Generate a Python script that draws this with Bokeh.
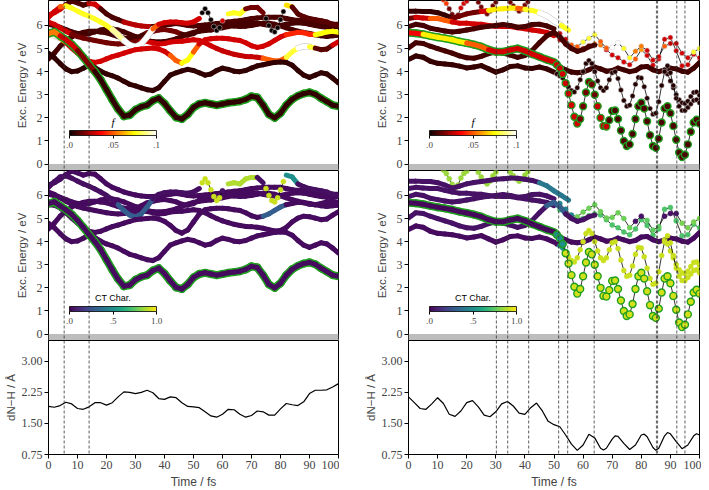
import math
from bokeh.plotting import figure
from bokeh.layouts import gridplot
from bokeh.models import (ColumnDataSource, LinearColorMapper, ColorBar, FixedTicker,
                          Span, BoxAnnotation, Range1d, Label)
from bokeh.transform import transform
from bokeh.palettes import Viridis256
from bokeh.embed import file_html
from bokeh.resources import INLINE

NAN = float("nan")

# ======================= DATA =======================
# ---- left column (trajectory 1), time grid 2 fs ----
T_L = [0, 2, 4, 6, 8, 10, 12, 14, 16, 18, 20, 22, 24, 26, 28, 30, 32, 34, 36, 38,
       40, 42, 44, 46, 48, 50, 52, 54, 56, 58, 60, 62, 64, 66, 68, 70, 72, 74, 76, 78,
       80, 82, 84, 86, 88, 90, 92, 94, 96, 98, 100]

L_S1 = [5.65, 5.72, 5.55, 5.38, 5.18, 4.92, 4.62, 4.3, 4.0, 3.65,
        3.22, 2.78, 2.38, 2.07, 2.12, 2.35, 2.48, 2.55, 2.75, 2.85,
        2.62, 2.3, 2.02, 1.95, 2.15, 2.45, 2.6, 2.65, 2.6, 2.55,
        2.6, 2.65, 2.68, 2.72, 2.8, 2.93, 2.88, 2.55, 2.15, 2.0,
        2.2, 2.55, 2.8, 2.95, 3.05, 3.1, 3.02, 2.85, 2.7, 2.55, 2.5]
L_S2 = [4.8, 4.6, 4.35, 4.12, 4.0, 4.03, 4.15, 4.28, 4.18, 4.02,
        3.9, 3.82, 3.72, 3.58, 3.45, 3.38, 3.3, 3.22, 3.18, 3.3,
        3.58, 3.85, 3.95, 4.03, 4.1, 4.05, 3.95, 3.85, 3.9, 4.05,
        4.15, 4.1, 4.02, 4.0, 4.05, 4.15, 4.25, 4.3, 4.35, 4.4,
        4.42, 4.4, 4.28, 4.05, 3.85, 3.75, 3.85, 3.95, 3.9, 3.72, 3.5]
L_U1 = [4.55, 4.8, 5.1, 5.32, 5.5, 5.62, 5.7, 5.75, 5.75, 5.72,
        5.68, 5.6, 5.52, 5.45, 5.42, 5.45, 5.55, 5.68, 5.75, 5.8,
        5.82, 5.78, 5.72, 5.62, 5.58, 5.65, 5.8, 5.92, 6.0, 6.05,
        6.05, 6.02, 5.98, 5.95, 5.97, 6.0, 6.05, 6.1, 6.1, 6.05,
        5.98, 5.9, 5.82, 5.75, 5.7, 5.65, 5.6, 5.55, 5.52, 5.55, 5.58]
L_U2 = [5.6, 5.58, 5.45, 5.25, 5.02, 4.8, 4.6, 4.45, 4.4, 4.45,
        4.55, 4.65, 4.72, 4.8, 4.88, 4.95, 4.98, 5.0, 5.02, 4.98,
        4.88, 4.7, 4.48, 4.37, 4.5, 4.85, 5.2, 5.38, 5.42, 5.45,
        5.45, 5.42, 5.38, 5.35, 5.25, 5.12, 5.05, 5.1, 5.2, 5.35,
        5.5, 5.6, 5.65, 5.7, 5.68, 5.62, 5.6, 5.65, 5.72, 5.75, 5.7]
L_U3 = [6.15, 6.05, 5.9, 5.75, 5.62, 5.52, 5.45, 5.4, 5.35, 5.3,
        5.25, 5.22, 5.2, 5.22, 5.25, 5.3, 5.32, 5.3, 5.25, 5.2,
        5.22, 5.28, 5.3, 5.32, 5.35, 5.38, 5.35, 5.25, 5.12, 5.0,
        4.9, 4.82, 4.75, 4.7, 4.66, 4.65, 4.62, 4.58, 4.52, 4.46,
        4.48, 4.62, 4.85, 5.02, 5.1, 5.08, 5.02, 4.95, 4.98, 5.15, 5.3]
L_U4 = [6.05, 6.0, 5.92, 5.82, 5.72, 5.65, 5.62, 5.65, 5.72, 5.8,
        5.85, 5.85, 5.8, 5.72, 5.62, 5.52, 5.42, 5.35, 5.3, 5.28,
        5.3, 5.35, 5.42, 5.52, 5.62, 5.7, 5.75, 5.78, 5.8, 5.85,
        5.9, 5.95, 6.0, 6.05, 6.1, 6.12, 6.1, 6.05, 6.0, 5.98,
        6.0, 6.05, 6.1, 6.12, 6.1, 6.05, 6.0, 5.95, 5.92, 5.92, 5.95]
L_U7 = [6.45, 6.55, 6.7, 6.9, 7.05, 6.98, 6.88, 6.95, 6.92, 6.72,
        6.5, 6.35, 6.25, 6.15, 6.08, 6.02, 5.98, 5.95, 5.95, 5.98,
        6.02, 6.05, 6.08, 6.05, 6.0, 5.98, 6.0, 6.02, 6.05, 6.08,
        6.12, 6.15, 6.18, 6.2, 6.25, 6.3, 6.32, 6.35, 6.35, 6.35,
        6.35, 6.3, 6.25, 6.22, 6.2, 6.18, 6.15, 6.12, 6.08, 6.05, 6.05]
L_U5_T = [0, 2, 4, 6, 8, 10, 12, 14, 16, 18, 20, 22, 24, 26, 28, 30, 32, 34, 36, 38,
          40, 42, 44, 46, 48, 50, 52, 53, 54, 55, 56, 57, 58, 59, 60,
          62, 64, 66, 68, 70, 72, 74, 75, 76, 77, 78, 79, 80, 81, 82,
          84, 86, 88, 90, 92, 94, 96, 98, 100]
L_U5 = [6.35, 6.6, 6.8, 6.85, 6.75, 6.62, 6.5, 6.4, 6.28, 6.15,
        6.0, 5.82, 5.6, 5.35, 5.15, 5.08, 5.2, 5.5, 5.85, 6.05,
        6.12, 6.15, 6.15, 6.12, 6.1, 6.15, 6.3, 6.55, 6.72, 6.55, 6.25, 5.95, 5.78, 5.9, 6.2,
        6.5, 6.55, 6.5, 6.72, 6.78, 6.78, 6.55, 6.3, 6.0, 5.78, 5.72, 5.9, 6.25, 6.6, 6.88,
        6.8, 6.5, 6.38, 6.3, 6.25, 6.2, 6.15, 6.05, 6.0]

# oscillator strength f, as (from t, to t, value) runs; later runs override earlier ones
F_L_S1 = [(0, 100, 0.006), (0, 2, 0.055), (4, 8, 0.03), (10, 14, 0.018)]
F_L_S2 = [(0, 100, 0.006)]
F_L_U1 = [(0, 100, 0.009), (34, 44, 0.016)]
F_L_U2 = [(0, 100, 0.03), (0, 2, 0.095), (4, 4, 0.06), (42, 44, 0.05), (46, 48, 0.075),
          (50, 50, 0.05), (82, 90, 0.042), (92, 100, 0.075)]
F_L_U3 = [(0, 100, 0.016), (0, 6, 0.03), (32, 56, 0.03), (58, 72, 0.028), (74, 80, 0.05),
          (82, 84, 0.08), (86, 88, 0.1), (90, 90, 0.08), (92, 96, 0.012), (98, 100, 0.03)]
F_L_U4 = [(0, 100, 0.009)]
F_L_U5 = [(0, 100, 0.012), (0, 2, 0.03), (4, 4, 0.05), (6, 20, 0.078), (22, 24, 0.09),
          (26, 34, 0.1), (36, 36, 0.05), (38, 52, 0.03), (53, 59, 0.0), (60, 60, 0.03),
          (62, 66, 0.078), (68, 72, 0.016), (75, 81, 0.0), (82, 82, 0.07)]
F_L_U7 = [(0, 100, 0.01), (0, 4, 0.03), (14, 16, 0.03), (26, 34, 0.026)]

# charge-transfer character runs
CT_L_S1 = [(0, 100, 0.03)]
CT_L_S2 = [(0, 100, 0.03)]
CT_L_U1 = [(0, 100, 0.03)]
CT_L_U2 = [(0, 100, 0.03), (74, 80, 0.3)]
CT_L_U3 = [(0, 100, 0.03)]
CT_L_U4 = [(0, 100, 0.03)]
CT_L_U5 = [(0, 100, 0.04), (24, 34, 0.3), (53, 59, 0.92), (62, 70, 0.88),
           (75, 81, 0.92), (82, 84, 0.5)]
CT_L_U7 = [(0, 100, 0.03)]

# ---- right column (trajectory 2) ----
T_R_A = [0, 2.5, 5, 7.5, 10, 12.5, 15, 17.5, 20, 22.5, 25, 27.5, 30, 32.5, 35, 37.5,
         40, 42.5, 45, 47.5, 50]
T_R_B = [51, 52, 53, 54, 55, 56, 57, 58, 59, 60, 61, 62, 63, 64, 65, 66, 67, 68, 69, 70,
         71, 72, 73, 74, 75, 76, 77, 78, 79, 80, 81, 82, 83, 84, 85, 86, 87, 88, 89, 90,
         91, 92, 93, 94, 95, 96, 97, 98, 99, 100]
T_R_C = [52, 54, 56, 58, 60, 62, 64, 66, 68, 70, 72, 74, 76, 78, 80, 82, 84, 86, 88, 90,
         92, 94, 96, 98, 100]

R_S1 = [5.68, 5.66, 5.62, 5.55, 5.49, 5.44, 5.38, 5.3, 5.24, 5.17, 5.08, 4.95, 4.86, 4.86,
        4.94, 5.0, 4.9, 4.76, 4.64, 4.52, 4.42,
        4.3, 4.15, 3.9, 3.5, 3.05, 2.55, 2.05, 1.75, 1.95, 2.5,
        3.1, 3.55, 3.45, 3.0, 2.5, 2.0, 1.65, 1.62, 1.9, 2.3,
        2.32, 1.95, 1.45, 1.0, 0.78, 0.85, 1.3, 1.95, 2.5, 2.65,
        2.4, 1.85, 1.25, 0.78, 0.7, 1.1, 1.8, 2.4, 2.5, 2.2,
        1.65, 1.05, 0.5, 0.3, 0.4, 0.85, 1.4, 1.8, 1.92, 1.75]
R_S2 = [4.52, 4.68, 4.62, 4.45, 4.36, 4.33, 4.3, 4.24, 4.16, 4.2, 4.26, 4.12, 3.98, 4.08,
        4.22, 4.25, 4.16, 4.14, 4.2, 4.12, 3.98,
        3.9, 3.82, 3.72, 3.55, 3.35, 3.18, 3.12, 3.3, 3.65, 4.0,
        4.35, 4.48, 4.35, 4.0, 3.6, 3.3, 3.18, 3.3, 3.65, 3.95,
        4.0, 3.7, 3.2, 2.75, 2.5, 2.55, 2.95, 3.45, 3.75, 3.72,
        3.35, 2.85, 2.4, 2.15, 2.2, 2.7, 3.4, 4.0, 4.25, 3.95,
        3.4, 2.85, 2.5, 2.32, 2.32, 2.45, 2.6, 2.75, 2.78, 2.65]
R_S2B_T = [88, 89, 90, 91, 92, 93, 94, 95, 96, 97, 98, 99, 100]
R_S2B = [4.08, 3.9, 3.6, 3.3, 3.0, 2.78, 2.65, 2.62, 2.72, 2.92, 3.1, 3.12, 2.98]
R_S3_T = [50] + T_R_C
R_S3 = [4.35, 4.2, 4.08, 3.98, 3.95, 3.98, 4.08, 4.2, 4.12, 4.02, 4.05, 4.15, 4.08, 4.0,
        4.05, 4.2, 4.22, 4.08, 4.0, 4.08, 4.15, 4.12, 4.02, 3.98, 4.15, 4.4]
R_S4_T = T_R_A + [52, 54, 56, 58, 60, 62, 64]
R_S4 = [5.02, 5.25, 5.22, 5.1, 5.0, 4.9, 4.8, 4.68, 4.6, 4.58, 4.66, 4.78, 4.85, 4.8,
        4.72, 4.62, 4.7, 4.92, 5.25, 5.55, 5.7,
        5.5, 5.2, 5.0, 4.88, 4.95, 5.08, 5.15]
R_S5 = [5.95, 6.05, 6.0, 5.88, 5.82, 5.76, 5.72, 5.75, 5.8, 5.86, 5.92, 5.96, 6.0, 6.04,
        6.0, 5.92, 5.95, 6.04, 6.05, 5.98, 5.85,
        5.65, 5.4, 5.15, 5.08, 5.28, 5.45, 5.6, 5.3, 5.02, 5.05, 5.25, 5.0, 4.6, 4.88,
        5.1, 4.92, 4.5, 4.65, 5.1, 5.22, 5.22, 4.8, 4.6, 4.85, 5.0]
R_S6 = [6.3, 6.35, 6.32, 6.3, 6.3, 6.22, 6.15, 6.1, 6.1, 6.06, 6.05, 6.0, 5.96, 5.95,
        5.95, 5.9, 5.86, 5.8, 5.76, 5.7, 5.56,
        5.38, 5.2, 5.05, 4.98, 5.0, 5.12, 5.2, 5.15, 4.95, 4.72, 4.6, 4.42, 4.3, 4.55,
        4.95, 4.7, 4.28, 4.55, 5.4, 5.48, 4.9, 4.25, 4.3, 4.75, 4.6]
R_S9_T = [0, 2.5, 5, 7.5, 10, 12.5, 15, 17.5, 20, 22.5, 25, 27.5, 30, 32.5, 35, 37.5,
          40, 42.5, 45, 47.5, 50, 52.5, 55]
R_S9 = [6.62, 6.62, 6.6, 6.6, 6.55, 6.45, 6.32, 6.4, 6.5, 6.56, 6.6, 6.65, 6.7, 6.72,
        6.75, 6.74, 6.7, 6.65, 6.55, 6.42, 6.2, 6.0, 5.8]
R_S10_T = [12, 13, 14, 15, 16, 17, 18, 19, 20, 21, 24, 25, 26, 27, 28, 29, 30, 31,
           35, 36, 37, 38, 39, 40, 41, 42]
R_S10 = [7.1, 6.95, 6.72, 6.48, 6.32, 6.45, 6.75, 6.95, 7.05, NAN,
         7.0, 6.8, 6.6, 6.5, 6.62, 6.85, 7.0, NAN,
         7.0, 6.85, 6.72, 6.62, 6.7, 6.88, 7.02, NAN]

F_R_S1 = [(0, 100, 0.01), (0, 2.5, 0.035), (5, 17.5, 0.072), (20, 25, 0.05),
          (27.5, 58, 0.03), (59, 64, 0.016), (65, 68, 0.028)]
F_R_S2 = [(0, 100, 0.007), (51, 100, 0.004)]
F_R_S2B = [(0, 100, 0.004)]
F_R_S3 = [(0, 100, 0.008)]
F_R_S4 = [(0, 100, 0.009)]
F_R_S5 = [(0, 100, 0.009), (50, 50, 0.016), (52, 54, 0.028), (56, 58, 0.05), (60, 64, 0.08),
          (66, 68, 0.05), (70, 72, 0.1), (74, 76, 0.078), (78, 80, 0.055), (82, 86, 0.03),
          (88, 88, 0.05), (90, 92, 0.028), (94, 96, 0.03), (98, 100, 0.078)]
F_R_S6 = [(0, 100, 0.03), (0, 0, 0.016), (7.5, 12.5, 0.05), (64, 66, 0.055), (78, 78, 0.05),
          (80, 80, 0.06)]
F_R_S9 = [(0, 100, 0.007), (15, 22.5, 0.016), (25, 25, 0.03), (27.5, 35, 0.072),
          (37.5, 37.5, 0.05), (40, 42.5, 0.078), (45, 50, 0.1), (52.5, 52.5, 0.078), (55, 55, 0.035)]
F_R_S10 = [(0, 100, 0.016), (12, 13, 0.045), (18, 20, 0.03)]

CT_R_S1 = [(0, 100, 0.02), (51, 53, 0.5), (54, 100, 0.93)]
CT_R_S2 = [(0, 100, 0.03), (52, 54, 0.5), (55, 100, 0.92)]
CT_R_S2B = [(0, 100, 0.92)]
CT_R_S3 = [(0, 100, 0.03)]
CT_R_S4 = [(0, 100, 0.05), (47.5, 52, 0.3)]
CT_R_S5 = [(0, 100, 0.05), (52, 56, 0.45), (58, 76, 0.78), (78, 80, 0.05), (82, 86, 0.75),
           (88, 92, 0.05), (94, 100, 0.8)]
CT_R_S6 = [(0, 100, 0.05), (50, 50, 0.3), (52, 100, 0.72)]
CT_R_S9 = [(0, 100, 0.05), (45, 55, 0.4)]
CT_R_S10 = [(0, 100, 0.85)]

# ---- N-H distance ----
D_L_T = T_L
D_L = [1.91, 1.89, 1.93, 2.01, 1.97, 1.86, 1.84, 1.90, 2.00, 2.00,
       1.94, 2.00, 2.14, 2.26, 2.25, 2.22, 2.25, 2.30, 2.24, 2.10,
       2.08, 2.14, 2.12, 2.00, 1.91, 1.90, 1.88, 1.78, 1.68, 1.65,
       1.72, 1.84, 1.83, 1.72, 1.65, 1.69, 1.80, 1.78, 1.70, 1.70,
       1.85, 1.98, 1.95, 1.93, 2.02, 2.22, 2.30, 2.30, 2.31, 2.38, 2.46]
D_R_T = [0, 2, 4, 6, 8, 10, 12, 14, 16, 18, 20, 22, 24, 26, 28, 30, 32, 34, 36, 38,
         40, 42, 44, 46, 48, 50, 52, 54, 56, 58, 60, 62, 64, 66, 67, 68, 70, 71, 72, 74,
         76, 78, 80, 81, 82, 84, 85, 86, 88, 89, 90, 92, 94, 96, 98, 99, 100]
D_R = [2.14, 2.00, 1.86, 1.84, 1.97, 2.12, 1.98, 1.72, 1.67, 1.80,
       2.00, 2.05, 1.90, 1.70, 1.66, 1.78, 1.97, 2.03, 1.92, 1.75,
       1.72, 1.88, 1.99, 1.80, 1.55, 1.47, 1.42, 1.22, 1.00, 0.85,
       0.98, 1.24, 1.15, 0.90, 0.86, 0.90, 1.12, 1.20, 1.19, 1.02,
       0.87, 0.98, 1.22, 1.24, 1.18, 0.92, 0.85, 0.90, 1.20, 1.28,
       1.25, 1.06, 0.89, 0.98, 1.20, 1.25, 1.22]

# event times (vertical dashed lines)
EVENTS_L = [5.4, 14.0]
EVENTS_R = [30.2, 34.1, 41.3, 51.6, 54.7, 63.8, 85.2, 85.6, 92.2, 95.0]

E_TICKS = [0, 1, 2, 3, 4, 5, 6]
D_TICKS = [0.75, 1.5, 2.25, 3.0]
D_TICK_LABELS = ["0.75", "1.50", "2.25", "3.00"]
T_TICKS = [0, 10, 20, 30, 40, 50, 60, 70, 80, 90, 100]

LEFT_STATES = [
    ("U7", T_L, L_U7, F_L_U7, CT_L_U7),
    ("U4", T_L, L_U4, F_L_U4, CT_L_U4),
    ("U1", T_L, L_U1, F_L_U1, CT_L_U1),
    ("U3", T_L, L_U3, F_L_U3, CT_L_U3),
    ("U5", L_U5_T, L_U5, F_L_U5, CT_L_U5),
    ("U2", T_L, L_U2, F_L_U2, CT_L_U2),
    ("S2", T_L, L_S2, F_L_S2, CT_L_S2),
    ("S1", T_L, L_S1, F_L_S1, CT_L_S1),
]
RIGHT_STATES = [
    ("S10", R_S10_T, R_S10, F_R_S10, CT_R_S10),
    ("S9", R_S9_T, R_S9, F_R_S9, CT_R_S9),
    ("S6", T_R_A + T_R_C, R_S6, F_R_S6, CT_R_S6),
    ("S5", T_R_A + T_R_C, R_S5, F_R_S5, CT_R_S5),
    ("S4", R_S4_T, R_S4, F_R_S4, CT_R_S4),
    ("S3", R_S3_T, R_S3, F_R_S3, CT_R_S3),
    ("S2B", R_S2B_T, R_S2B, F_R_S2B, CT_R_S2B),
    ("S2", T_R_A + T_R_B, R_S2, F_R_S2, CT_R_S2),
    ("S1", T_R_A + T_R_B, R_S1, F_R_S1, CT_R_S1),
]

# ======================= STYLE =======================
SERIF = "Liberation Serif"
SANS = "Liberation Sans"
GREEN = "#1f9e1f"
HALO = "#c8c8c8"
DOTS_L = {"U5": [(52.5, 60.5), (74.5, 81.5)]}
DOTS_R = {"S1": [(50.5, 101)], "S2": [(50.5, 101)], "S2B": [(0, 101)],
          "S5": [(51, 101)], "S6": [(51, 101)], "S10": [(0, 101)]}
ACTIVE = "S1"


def _hot(x):
    r = min(1.0, 0.0416 + (1 - 0.0416) * x / 0.365079)
    g = min(1.0, max(0.0, (x - 0.365079) / (0.746032 - 0.365079)))
    b = min(1.0, max(0.0, (x - 0.746032) / (1 - 0.746032)))
    return "#%02x%02x%02x" % (int(r * 255), int(g * 255), int(b * 255))


HOT = [_hot(i / 255.0) for i in range(256)]
F_MAP = LinearColorMapper(palette=HOT, low=0.0, high=0.1)
CT_MAP = LinearColorMapper(palette=Viridis256, low=0.0, high=1.0)

FW = {0: 290, 1: 291}
MBL = {0: 48, 1: 69}
MBR = {0: 1, 1: 2}
EH = 170
DH = 114
E_LO, E_HI = -0.28, 7.08


def run_values(runs, ts):
    out = []
    for t in ts:
        v = runs[0][2]
        for a, b, val in runs:
            if a - 1e-9 <= t <= b + 1e-9:
                v = val
        out.append(v)
    return out


def base_fig(col, fh, y0, y1, xaxis):
    p = figure(frame_width=FW[col], frame_height=fh, x_range=Range1d(0, 100),
               y_range=Range1d(y0, y1), output_backend="svg", toolbar_location=None,
               min_border_left=MBL[col], min_border_right=MBR[col],
               min_border_top=0, min_border_bottom=0)
    p.xgrid.visible = False
    p.ygrid.visible = False
    p.outline_line_color = "black"
    p.outline_line_width = 1
    p.background_fill_color = "white"
    p.border_fill_color = "white"
    ya = p.yaxis[0]
    ya.major_tick_in = 0
    ya.major_tick_out = 4
    ya.minor_tick_line_color = None
    ya.major_label_text_font = SERIF
    ya.major_label_text_font_size = "12px"
    ya.major_label_standoff = 2
    ya.axis_label_text_font = SANS
    ya.axis_label_text_font_size = "11.5px"
    ya.axis_label_text_font_style = "normal"
    ya.axis_line_color = "black"
    ya.major_tick_line_color = "black"
    if xaxis:
        xa = p.xaxis[0]
        xa.ticker = FixedTicker(ticks=T_TICKS)
        xa.major_tick_in = 0
        xa.major_tick_out = 4
        xa.minor_tick_line_color = None
        xa.major_label_text_font = SERIF
        xa.major_label_text_font_size = "12px"
        xa.major_label_standoff = 2
        xa.axis_label = "Time / fs"
        xa.axis_label_text_font = SANS
        xa.axis_label_text_font_size = "12px"
        xa.axis_label_text_font_style = "normal"
        xa.axis_label_standoff = 3
    else:
        p.xaxis.visible = False
    return p


def draw_state(p, t, e, vals, mapper, dots, active, pale):
    dotted = [any(a <= ti <= b for a, b in dots) for ti in t]
    seg = dict(x0=[], y0=[], x1=[], y1=[], c=[])
    halo = dict(x0=[], y0=[], x1=[], y1=[])
    for i in range(len(t) - 1):
        if dotted[i] or dotted[i + 1]:
            continue
        if math.isnan(e[i]) or math.isnan(e[i + 1]):
            continue
        seg["x0"].append(t[i]); seg["y0"].append(e[i])
        seg["x1"].append(t[i + 1]); seg["y1"].append(e[i + 1])
        seg["c"].append(vals[i])
        if pale is not None and vals[i] >= pale:
            halo["x0"].append(t[i]); halo["y0"].append(e[i])
            halo["x1"].append(t[i + 1]); halo["y1"].append(e[i + 1])
    if seg["x0"]:
        src = ColumnDataSource(seg)
        if active:
            p.segment("x0", "y0", "x1", "y1", source=src, line_color=GREEN,
                      line_width=8, line_cap="round")
        if halo["x0"]:
            p.segment("x0", "y0", "x1", "y1", source=ColumnDataSource(halo),
                      line_color=HALO, line_width=6.2, line_cap="round")
        p.segment("x0", "y0", "x1", "y1", source=src, line_color=transform("c", mapper),
                  line_width=5, line_cap="round")
    lx = [ti if d else NAN for ti, d in zip(t, dotted)]
    ly = [ei if d else NAN for ei, d in zip(e, dotted)]
    if any(dotted):
        p.line(lx, ly, line_color="black", line_width=0.8)
        pts = dict(x=[], y=[], c=[])
        for ti, ei, vi, d in zip(t, e, vals, dotted):
            if d and not math.isnan(ei):
                pts["x"].append(ti); pts["y"].append(ei); pts["c"].append(vi)
        src = ColumnDataSource(pts)
        if active:
            p.scatter("x", "y", source=src, size=7, marker="circle",
                      fill_color=transform("c", mapper), line_color=GREEN, line_width=1.4)
        else:
            p.scatter("x", "y", source=src, size=5, marker="circle",
                      fill_color=transform("c", mapper), line_color=HALO if pale else transform("c", mapper),
                      line_width=0.5)


def add_events(p, events):
    for ev in events:
        p.add_layout(Span(location=ev, dimension="height", line_color="#333333",
                          line_dash="3 2", line_width=0.8))


def energy_panel(col, kind, states, dots, events):
    p = base_fig(col, EH, E_LO, E_HI, False)
    ya = p.yaxis[0]
    ya.ticker = FixedTicker(ticks=E_TICKS)
    ya.axis_label = "Exc. Energy / eV"
    ya.axis_label_standoff = 6
    p.add_layout(BoxAnnotation(bottom=E_LO, top=0.0, fill_color="#bdbdbd", fill_alpha=1,
                               line_color=None))
    mapper = F_MAP if kind == "f" else CT_MAP
    pale = 0.088 if kind == "f" else None
    for name, t, e, fr, cr in states:
        vals = run_values(fr if kind == "f" else cr, t)
        draw_state(p, t, e, vals, mapper, dots.get(name, []), name == ACTIVE, pale)
    add_events(p, events)
    if kind == "f":
        ticks = [0, 0.05, 0.1]
        labels = {0: ".0", 0.05: ".05", 0.1: ".1"}
        title, tfont, tstyle, tsize = "f", SERIF, "italic", "11px"
        cb_y, title_y = 20, 49
    else:
        ticks = [0, 0.5, 1.0]
        labels = {0: ".0", 0.5: ".5", 1.0: "1.0"}
        title, tfont, tstyle, tsize = "CT Char.", SANS, "normal", "9px"
        cb_y, title_y = 14, 43
    cb = ColorBar(color_mapper=mapper, orientation="horizontal", location=(21, cb_y),
                  width=87, height=5, padding=0, ticker=FixedTicker(ticks=ticks),
                  major_label_overrides=labels, major_label_text_font=SERIF,
                  major_label_text_font_size="9px", label_standoff=3,
                  bar_line_color="black", bar_line_width=0.8,
                  major_tick_line_color="black", major_tick_in=0, major_tick_out=3,
                  background_fill_color=None, border_line_color=None)
    p.add_layout(cb)
    p.add_layout(Label(x=21 + 43.5, y=title_y, x_units="screen", y_units="screen",
                       text=title, text_font=tfont, text_font_style=tstyle,
                       text_font_size=tsize, text_align="center",
                       text_baseline="middle", text_color="black"))
    return p


def dist_panel(col, t, d, events):
    p = base_fig(col, DH, 0.75, 3.5, True)
    ya = p.yaxis[0]
    ya.ticker = FixedTicker(ticks=D_TICKS)
    ya.major_label_overrides = {k: v for k, v in zip(D_TICKS, D_TICK_LABELS)}
    ya.axis_label = "dN\u2212H / \u00c5"
    ya.axis_label_standoff = 2
    p.line(t, d, line_color="black", line_width=1.2)
    add_events(p, events)
    return p


tl = energy_panel(0, "f", LEFT_STATES, DOTS_L, EVENTS_L)
tr = energy_panel(1, "f", RIGHT_STATES, DOTS_R, EVENTS_R)
ml = energy_panel(0, "ct", LEFT_STATES, DOTS_L, EVENTS_L)
mr = energy_panel(1, "ct", RIGHT_STATES, DOTS_R, EVENTS_R)
bl = dist_panel(0, D_L_T, D_L, EVENTS_L)
br = dist_panel(1, D_R_T, D_R, EVENTS_R)

grid = gridplot([[tl, tr], [ml, mr], [bl, br]], toolbar_location=None)
open("out.html", "w").write(file_html(grid, INLINE))
